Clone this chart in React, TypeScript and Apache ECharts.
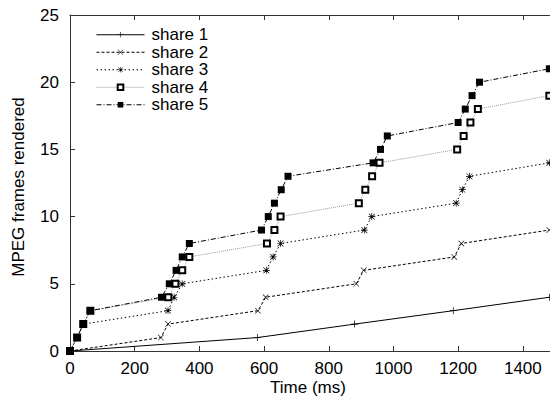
import React, { useEffect, useRef } from "react";
import * as echarts from "echarts";

const seriesNames = ["share 1", "share 2", "share 3", "share 4", "share 5"];

const share1X = [0, 580, 880, 1185, 1482];
const share1Y = [0, 1, 2, 3, 4];

const share2X = [0, 281, 303, 581, 605, 885, 908, 1188, 1210, 1482];
const share2Y = [0, 1, 2, 3, 4, 5, 6, 7, 8, 9];

const share3X = [0, 22, 41, 303, 322, 347, 607, 628, 651, 910, 933, 1194, 1213, 1235, 1482];
const share3Y = [0, 1, 2, 3, 4, 5, 6, 7, 8, 9, 10, 11, 12, 13, 14];

const share4X = [0, 22, 41, 63, 304, 326, 347, 369, 609, 632, 651, 893, 913, 934, 957, 1197, 1217, 1238, 1261, 1482];
const share4Y = [0, 1, 2, 3, 4, 5, 6, 7, 8, 9, 10, 11, 12, 13, 14, 15, 16, 17, 18, 19];

const share5X = [0, 22, 41, 63, 283, 307, 328, 347, 369, 592, 613, 632, 653, 674, 937, 960, 981, 1200, 1222, 1243, 1266, 1482];
const share5Y = [0, 1, 2, 3, 4, 5, 6, 7, 8, 9, 10, 11, 12, 13, 14, 15, 16, 17, 18, 19, 20, 21];

const xTicks = [0, 200, 400, 600, 800, 1000, 1200, 1400];
const yTicks = [0, 5, 10, 15, 20, 25];

const xTitle = "Time (ms)";
const yTitle = "MPEG frames rendered";

const FONT = "'Liberation Sans', Arial, Helvetica, sans-serif";

const PLUS = "path://M4.5,0h1v4.5h4.5v1h-4.5v4.5h-1v-4.5h-4.5v-1h4.5z";
const CROSS = "path://M0,0.7L0.7,0L10,9.3L9.3,10Z M9.3,0L10,0.7L0.7,10L0,9.3Z";
const STAR =
  "path://M4.5,0h1v4.5h4.5v1h-4.5v4.5h-1v-4.5h-4.5v-1h4.5z M0.5,1.2L1.2,0.5L9.5,8.8L8.8,9.5Z M8.8,0.5L9.5,1.2L1.2,9.5L0.5,8.8Z";

function zip(xs: number[], ys: number[]) {
  return xs.map((x, i) => [x, ys[i]]);
}

export default function App() {
  const ref = useRef<HTMLDivElement>(null);
  useEffect(() => {
    if (!ref.current) return;
    const chart = echarts.init(ref.current, undefined, { renderer: "svg" });
    const axisColor = "#333";
    const datasets = [
      zip(share1X, share1Y),
      zip(share2X, share2Y),
      zip(share3X, share3Y),
      zip(share4X, share4Y),
      zip(share5X, share5Y),
    ];
    const styles = [
      { symbol: PLUS, size: 7, line: { color: "#000", type: "solid" as any } },
      { symbol: CROSS, size: 6, line: { color: "#000", type: [3, 2] as any } },
      { symbol: STAR, size: 7, line: { color: "#000", type: [1.5, 2.5] as any } },
      { symbol: "emptyRect", size: 6, line: { color: "#999", type: [1, 1] as any } },
      { symbol: "rect", size: 7, line: { color: "#000", type: [5, 2, 1, 2] as any } },
    ];
    chart.setOption({
      animation: false,
      backgroundColor: "#fff",
      textStyle: { fontFamily: FONT },
      grid: { left: 70, right: 0, top: 15, bottom: 53, containLabel: false },
      legend: {
        orient: "vertical",
        left: 91,
        top: 21,
        itemWidth: 48,
        itemHeight: 7,
        itemGap: 0,
        data: seriesNames,
        lineStyle: { width: 1 },
        textStyle: {
          fontSize: 17,
          color: "#000",
          fontFamily: FONT,
          lineHeight: 17.5,
          padding: [0, 0, 0, 2],
        },
      },
      xAxis: [
        {
          type: "value",
          position: "bottom",
          min: 0,
          max: 1484,
          interval: 200,
          splitLine: { show: false },
          axisLine: { show: true, onZero: false, lineStyle: { color: axisColor, width: 1 } },
          axisTick: { show: true, inside: true, length: 5, customValues: xTicks, lineStyle: { color: axisColor } },
          axisLabel: {
            customValues: xTicks,
            formatter: (v: number) => String(v),
            fontSize: 17,
            color: "#000",
            fontFamily: FONT,
            margin: 9,
          },
        },
        {
          type: "value",
          position: "top",
          min: 0,
          max: 1484,
          interval: 200,
          splitLine: { show: false },
          axisLine: { show: true, onZero: false, lineStyle: { color: axisColor, width: 1 } },
          axisTick: { show: true, inside: true, length: 5, customValues: xTicks, lineStyle: { color: axisColor } },
          axisLabel: { show: false },
        },
      ],
      yAxis: [
        {
          type: "value",
          min: 0,
          max: 25,
          interval: 5,
          splitLine: { show: false },
          axisLine: { show: true, onZero: false, lineStyle: { color: axisColor, width: 1 } },
          axisTick: { show: true, inside: true, length: 5, customValues: yTicks, lineStyle: { color: axisColor } },
          axisLabel: {
            customValues: yTicks,
            formatter: (v: number) => String(v),
            fontSize: 17,
            color: "#000",
            fontFamily: FONT,
            margin: 11,
          },
        },
      ],
      graphic: [
        {
          type: "text",
          x: 308,
          y: 387,
          style: {
            text: xTitle,
            fontSize: 17,
            fontFamily: FONT,
            fill: "#000",
            align: "center",
            verticalAlign: "middle",
          },
        },
        {
          type: "text",
          x: 18,
          y: 187,
          rotation: Math.PI / 2,
          style: {
            text: yTitle,
            fontSize: 17,
            fontFamily: FONT,
            fill: "#000",
            align: "center",
            verticalAlign: "middle",
          },
        },
      ],
      series: datasets.map((d, i) => ({
        name: seriesNames[i],
        type: "line",
        xAxisIndex: 0,
        yAxisIndex: 0,
        data: d,
        symbol: styles[i].symbol,
        symbolSize: styles[i].size,
        showAllSymbol: true,
        clip: true,
        itemStyle: { color: "#000", borderWidth: 1 },
        lineStyle: { width: 1, color: styles[i].line.color, type: styles[i].line.type },
        emphasis: { disabled: true },
        z: 2 + i,
      })),
    });
    return () => chart.dispose();
  }, []);
  return (
    <div
      ref={ref}
      style={{ position: "fixed", left: 0, top: 0, width: 550, height: 404, background: "#fff" }}
    />
  );
}
